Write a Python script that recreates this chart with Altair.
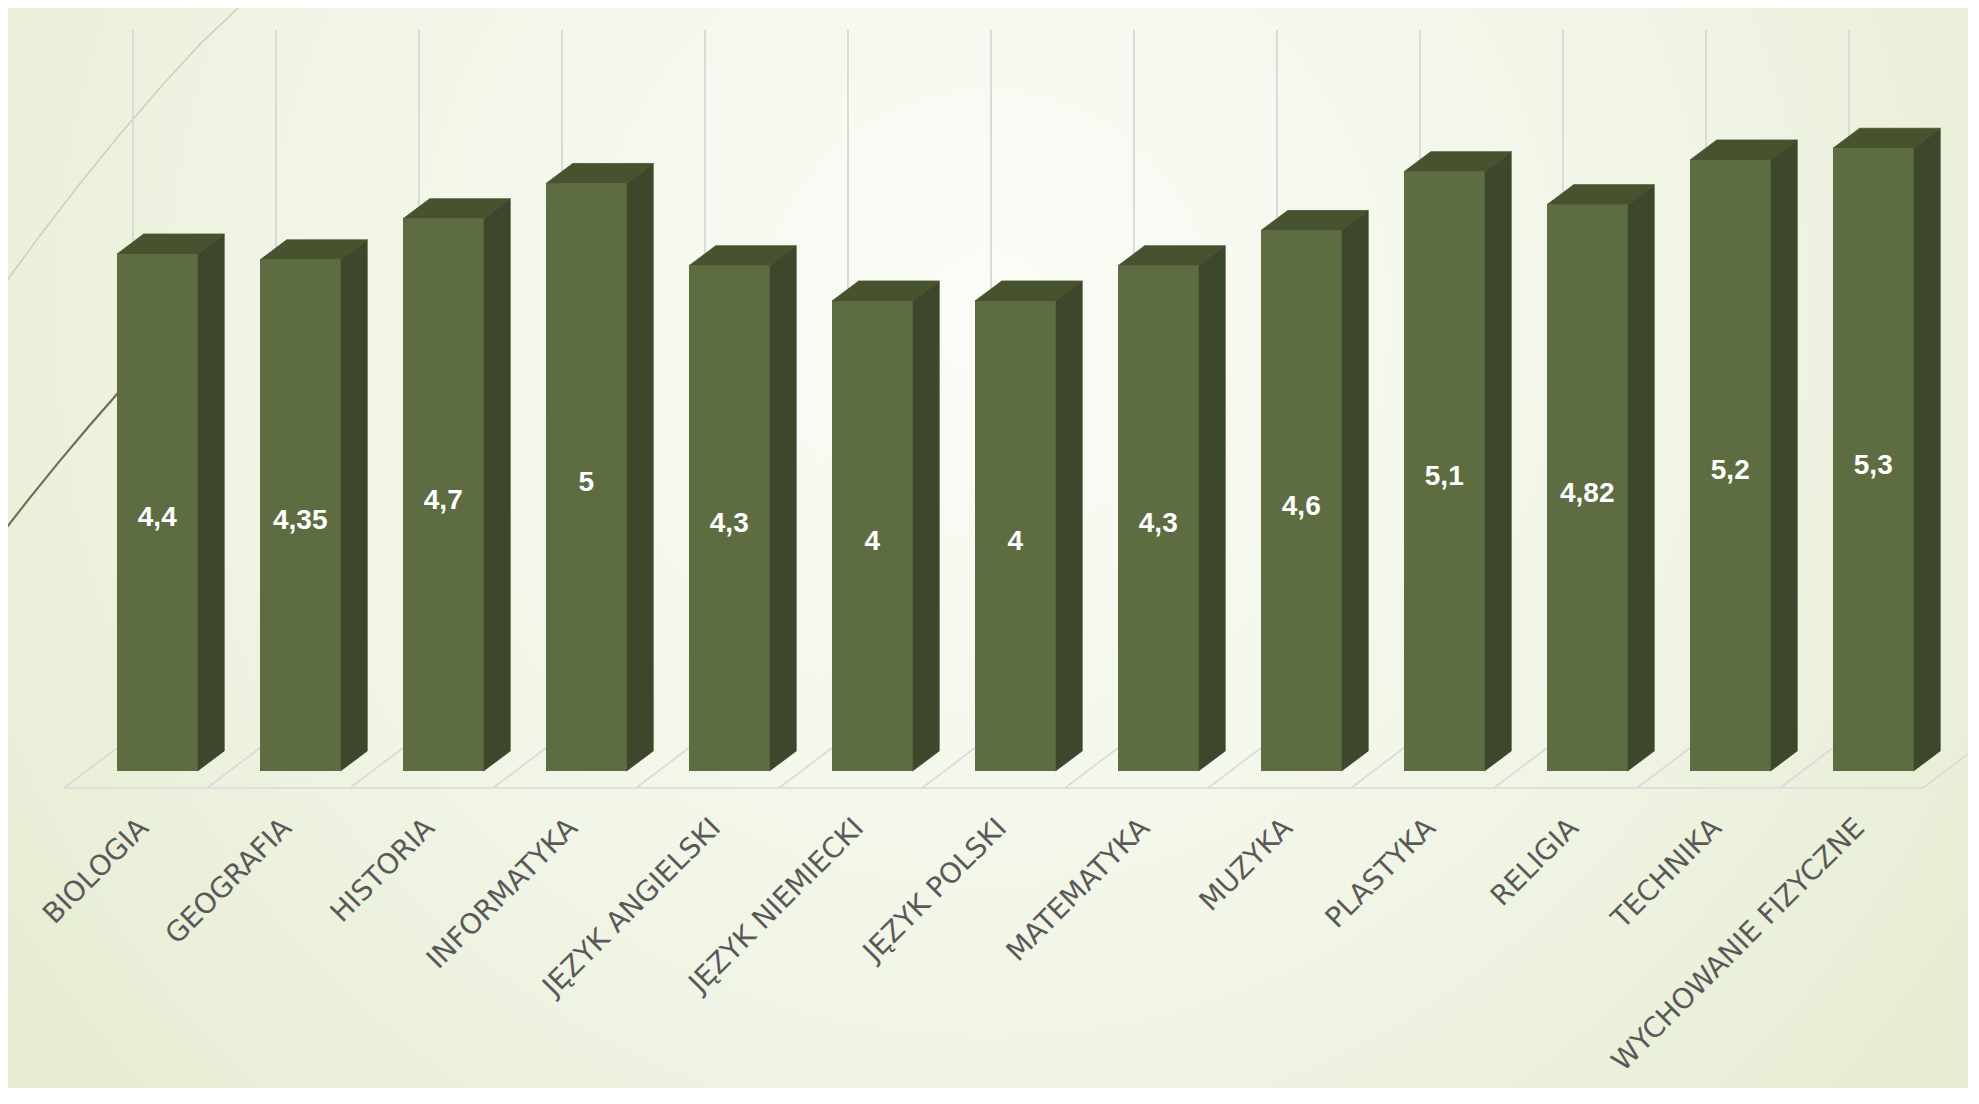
import altair as alt
import pandas as pd

# ---------------- data ----------------
categories = ["BIOLOGIA", "GEOGRAFIA", "HISTORIA", "INFORMATYKA", "JĘZYK ANGIELSKI",
              "JĘZYK NIEMIECKI", "JĘZYK POLSKI", "MATEMATYKA", "MUZYKA", "PLASTYKA",
              "RELIGIA", "TECHNIKA", "WYCHOWANIE FIZYCZNE"]
values = [4.4, 4.35, 4.7, 5.0, 4.3, 4.0, 4.0, 4.3, 4.6, 5.1, 4.82, 5.2, 5.3]
value_labels = ["4,4", "4,35", "4,7", "5", "4,3", "4", "4", "4,3", "4,6", "5,1", "4,82", "5,2", "5,3"]

# decorative slide curves (in chart units)
light_curve_u = [-1.0997, -0.8199, -0.5402, -0.2605, 0.0192, 0.2990, 0.5717]
light_curve_v = [4.0936, 4.5583, 5.0000, 5.4187, 5.8145, 6.1864, 6.5021]
dark_curve_u = [-1.0997, -0.8899, -0.6801, -0.4703, -0.2255]
dark_curve_v = [2.000, 2.326, 2.641, 2.945, 3.285]

# ---------------- geometry / style ----------------
W, H = 1960, 1080
X_DOMAIN = [-1.0437, 12.6626]
Y_DOMAIN = [-2.6979, 6.4936]
HW = 0.2815   # half width of bar front face
DX = 0.1867   # depth offset in x
DY = 0.1702   # depth offset in y
FRONT, SIDE, TOP = "#5E6D41", "#3D472B", "#47532F"
GRID = "#D9DADC"

xs = alt.Scale(domain=X_DOMAIN, nice=False, zero=False)
ys = alt.Scale(domain=Y_DOMAIN, nice=False, zero=False)

n = len(categories)
bars = pd.DataFrame({
    "idx": list(range(n)),
    "cat": categories,
    "val": values,
    "label": value_labels,
})
bars["xl"] = bars["idx"] - HW
bars["xr"] = bars["idx"] + HW
bars["base"] = 0.0
bars["mid"] = bars["val"] / 2

side_rows, top_rows = [], []
for i, v in zip(range(n), values):
    c = categories[i]
    side_rows += [
        {"cat": c, "k": 0, "x": i + HW, "y": 0.0},
        {"cat": c, "k": 1, "x": i + HW, "y": v},
        {"cat": c, "k": 2, "x": i + HW + DX, "y": v + DY},
        {"cat": c, "k": 3, "x": i + HW + DX, "y": DY},
        {"cat": c, "k": 4, "x": i + HW, "y": 0.0},
    ]
    top_rows += [
        {"cat": c, "k": 0, "x": i - HW, "y": v},
        {"cat": c, "k": 1, "x": i + HW, "y": v},
        {"cat": c, "k": 2, "x": i + HW + DX, "y": v + DY},
        {"cat": c, "k": 3, "x": i - HW + DX, "y": v + DY},
        {"cat": c, "k": 4, "x": i - HW, "y": v},
    ]
side = pd.DataFrame(side_rows)
top = pd.DataFrame(top_rows)

FLOOR_FRONT_V, FLOOR_BACK_V = -0.1447, 0.1957
FLOOR_OFF = -0.6521
floor_rows = [{"x": FLOOR_OFF, "x2": n + FLOOR_OFF, "y": FLOOR_FRONT_V, "y2": FLOOR_FRONT_V}]
for k in range(n + 1):
    floor_rows.append({"x": k + FLOOR_OFF, "x2": k + FLOOR_OFF + 2 * DX * 0.99,
                       "y": FLOOR_FRONT_V, "y2": FLOOR_BACK_V})
floor = pd.DataFrame(floor_rows)

grid = pd.DataFrame({"x": [i - 0.1696 for i in range(n)],
                     "y": [FLOOR_BACK_V] * n, "y2": [6.306] * n})

light = pd.DataFrame({"u": light_curve_u, "v": light_curve_v, "o": range(len(light_curve_u))})
dark = pd.DataFrame({"u": dark_curve_u, "v": dark_curve_v, "o": range(len(dark_curve_u))})

labels = bars.copy()
labels["lx"] = labels["idx"] - 0.09
labels["ly"] = -0.45

# ---------------- layers ----------------
bg = alt.Chart(pd.DataFrame({"a": [0]})).mark_rect(
    fill={"gradient": "radial", "x1": 0.5, "y1": 0.38, "r1": 0,
          "x2": 0.5, "y2": 0.38, "r2": 0.78,
          "stops": [{"offset": 0, "color": "#FBFCF8"},
                    {"offset": 0.45, "color": "#F1F5E6"},
                    {"offset": 1, "color": "#DFE7C6"}]}
).encode(x=alt.value(0), x2=alt.value(W), y=alt.value(0), y2=alt.value(H))

light_line = alt.Chart(light).mark_line(color="#CDD2BC", strokeWidth=1.6, clip=True).encode(
    x=alt.X("u:Q", scale=xs, axis=None), y=alt.Y("v:Q", scale=ys, axis=None), order="o:Q")

dark_line = alt.Chart(dark).mark_line(color="#776B52", strokeWidth=2.2, clip=True).encode(
    x=alt.X("u:Q", scale=xs, axis=None), y=alt.Y("v:Q", scale=ys, axis=None), order="o:Q")

grid_rules = alt.Chart(grid).mark_rule(color=GRID, strokeWidth=2).encode(
    x=alt.X("x:Q", scale=xs, axis=None), y=alt.Y("y:Q", scale=ys, axis=None), y2="y2:Q")

floor_rules = alt.Chart(floor).mark_rule(color=GRID, strokeWidth=1.6).encode(
    x=alt.X("x:Q", scale=xs, axis=None), x2="x2:Q",
    y=alt.Y("y:Q", scale=ys, axis=None), y2="y2:Q")

side_poly = alt.Chart(side).mark_line(
    fill=SIDE, stroke=SIDE, strokeWidth=0.8, interpolate="linear").encode(
    x=alt.X("x:Q", scale=xs, axis=None),
    y=alt.Y("y:Q", scale=ys, axis=None),
    detail="cat:N", order="k:Q")

top_poly = alt.Chart(top).mark_line(
    fill=TOP, stroke=TOP, strokeWidth=0.8, interpolate="linear").encode(
    x=alt.X("x:Q", scale=xs, axis=None),
    y=alt.Y("y:Q", scale=ys, axis=None),
    detail="cat:N", order="k:Q")

front = alt.Chart(bars).mark_rect(color=FRONT).encode(
    x=alt.X("xl:Q", scale=xs, axis=None), x2="xr:Q",
    y=alt.Y("base:Q", scale=ys, axis=None), y2="val:Q")

val_text = alt.Chart(bars).mark_text(
    font="Liberation Sans", fontWeight="bold", fontSize=28, color="white",
    align="center", baseline="middle", dy=6).encode(
    x=alt.X("idx:Q", scale=xs, axis=None), y=alt.Y("mid:Q", scale=ys, axis=None),
    text="label:N")

cat_text = alt.Chart(labels).mark_text(
    font="DejaVu Sans", fontSize=28, color="#595959", angle=315,
    align="right", baseline="middle").encode(
    x=alt.X("lx:Q", scale=xs, axis=None), y=alt.Y("ly:Q", scale=ys, axis=None),
    text="cat:N")

chart = alt.layer(
    bg, light_line, grid_rules, floor_rules, dark_line,
    side_poly, top_poly, front, val_text, cat_text
).properties(
    width=W, height=H, padding=0, autosize="none", background="#E4EBD2"
).configure_view(stroke=None)

chart.save("out.html", embed_options={"renderer": "svg", "actions": False})
